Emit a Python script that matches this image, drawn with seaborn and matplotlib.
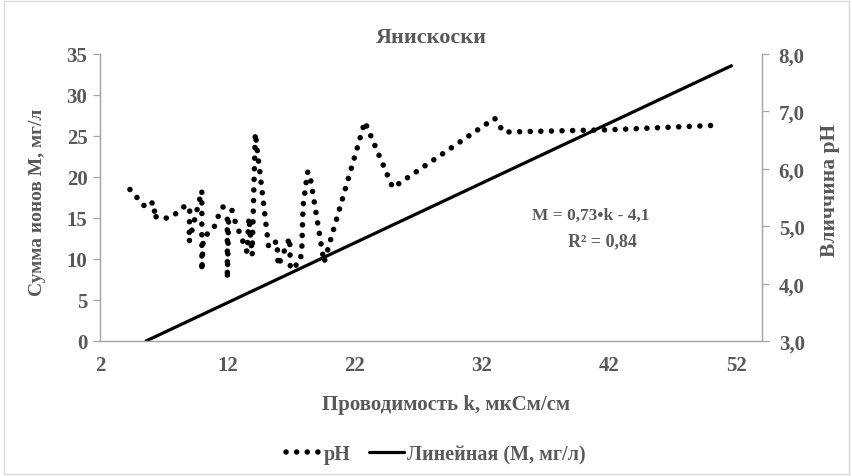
import numpy as np
import pandas as pd
import seaborn as sns
import matplotlib
matplotlib.use('Agg')
import matplotlib.pyplot as plt
import matplotlib.ticker as ticker
from matplotlib.lines import Line2D
from matplotlib.patches import Rectangle

""" data read from the picture """
k_ph = [4.35, 5.5, 6.0, 6.45, 6.0, 6.8, 7.5, 8.1, 8.75, 9.05, 9.0, 10.0, 10.0,
        10.1, 10.5, 11.0, 11.3, 11.7, 12.4, 12.0, 12.0, 12.1, 12.55, 13.55,
        13.7, 13.95, 14.2, 15.25, 15.9, 16.0, 16.9, 16.95, 17.7, 17.85, 17.95,
        18.3, 18.45, 19.6, 22.8, 25.0, 33.0, 33.7, 42.0, 50.6]
ph = [5.64, 5.35, 5.43, 5.30, 5.20, 5.13, 5.15, 5.24, 5.37, 5.30, 4.73, 5.62,
      4.22, 4.74, 4.89, 5.00, 5.18, 5.35, 5.27, 5.14, 4.08, 5.12, 5.12, 4.55,
      5.15, 4.50, 6.62, 4.63, 4.74, 4.31, 4.80, 4.25, 4.37, 4.58, 5.35, 5.94,
      5.94, 4.37, 6.82, 5.67, 6.88, 6.64, 6.68, 6.76]

# trend line M = 0,73*k - 4,1
slope, intercept = 0.73, -4.1
k_trend = [4.1 / 0.73, 51.6]

x_ticks = [2, 12, 22, 32, 42, 52]
m_ticks = [0, 5, 10, 15, 20, 25, 30, 35]
ph_ticks = [3.0, 4.0, 5.0, 6.0, 7.0, 8.0]

title = 'Янискоски'
x_label = 'Проводимость k, мкСм/см'
y_label = 'Сумма ионов M, мг/л'
y2_label = 'Вличчина pH'
eq_text = 'M = 0,73•k - 4,1'
r2_text = 'R² = 0,84'

""" config """
sns.set_theme(style='white')
plt.rcParams['font.family'] = ['Liberation Serif', 'DejaVu Serif']
plt.rcParams['font.weight'] = 'bold'
txt_col = '#595959'
grid_col = '#a6a6a6'
dot_style = (0, (0.01, 1.9))
dot_lw = 4.0

df_ph = pd.DataFrame({'k': k_ph, 'pH': ph})
df_tr = pd.DataFrame({'k': k_trend, 'M': [slope * v + intercept for v in k_trend]})

W, H = 853, 477
fig = plt.figure(figsize=(W / 100, H / 100), dpi=100)
ax = fig.add_axes([100 / W, 1 - 342 / H, 662 / W, 287 / H])
ax2 = ax.twinx()

sns.lineplot(data=df_tr, x='k', y='M', ax=ax, color='black', lw=2.3,
             estimator=None, errorbar=None)
sns.lineplot(data=df_ph, x='k', y='pH', ax=ax2, sort=False, estimator=None,
             errorbar=None, color='black', lw=dot_lw, linestyle=dot_style,
             dash_capstyle='round')

ax.set_xlim(2, 54)
ax.set_ylim(0, 35)
ax2.set_ylim(3, 8)
ax.set_xticks(x_ticks)
ax.set_yticks(m_ticks)
ax2.set_yticks(ph_ticks)
ax2.yaxis.set_major_formatter(ticker.FuncFormatter(lambda v, p: '{:.1f}'.format(v).replace('.', ',')))
ax.set_xlabel('')
ax.set_ylabel('')
ax2.set_ylabel('')

for a in (ax, ax2):
    for s in a.spines.values():
        s.set_color(grid_col)
        s.set_linewidth(0.9)
    a.spines['top'].set_visible(False)
    a.tick_params(colors=grid_col, labelcolor=txt_col, labelsize=15,
                  length=5, width=0.9, direction='out')
    for lab in a.get_xticklabels() + a.get_yticklabels():
        lab.set_fontweight('bold')
ax.tick_params(axis='x', pad=5)
ax.tick_params(axis='y', pad=4)
ax2.tick_params(axis='y', pad=7)

def ftxt(x, y, s, size, **kw):
    fig.text(x / W, 1 - y / H, s, ha='center', va='center', fontsize=size,
             color=txt_col, fontweight='bold', **kw)

ftxt(431, 38, title, 16)
ftxt(446, 405, x_label, 15)
ftxt(38, 202, y_label, 14, rotation=90)
ftxt(830, 190, y2_label, 15.5, rotation=90)
ftxt(591, 216, eq_text, 12.5)
ftxt(602, 242, r2_text, 13)

handles = [Line2D([], [], color='black', lw=dot_lw, linestyle=dot_style, dash_capstyle='round'),
           Line2D([], [], color='black', lw=2.3)]
leg = fig.legend(handles, ['pH', 'Линейная (M, мг/л)'], loc='center',
                 bbox_to_anchor=(436 / W, 1 - 455 / H), ncol=2, frameon=False,
                 fontsize=14.5, handlelength=1.75, handletextpad=0.15, columnspacing=0.9)
for t in leg.get_texts():
    t.set_color(txt_col)
    t.set_fontweight('bold')

fig.patches.append(Rectangle((4 / W, 2 / H), 845 / W, 473 / H, transform=fig.transFigure,
                             fill=False, edgecolor='#d9d9d9', lw=1))

fig.savefig('out.png', dpi=100)
